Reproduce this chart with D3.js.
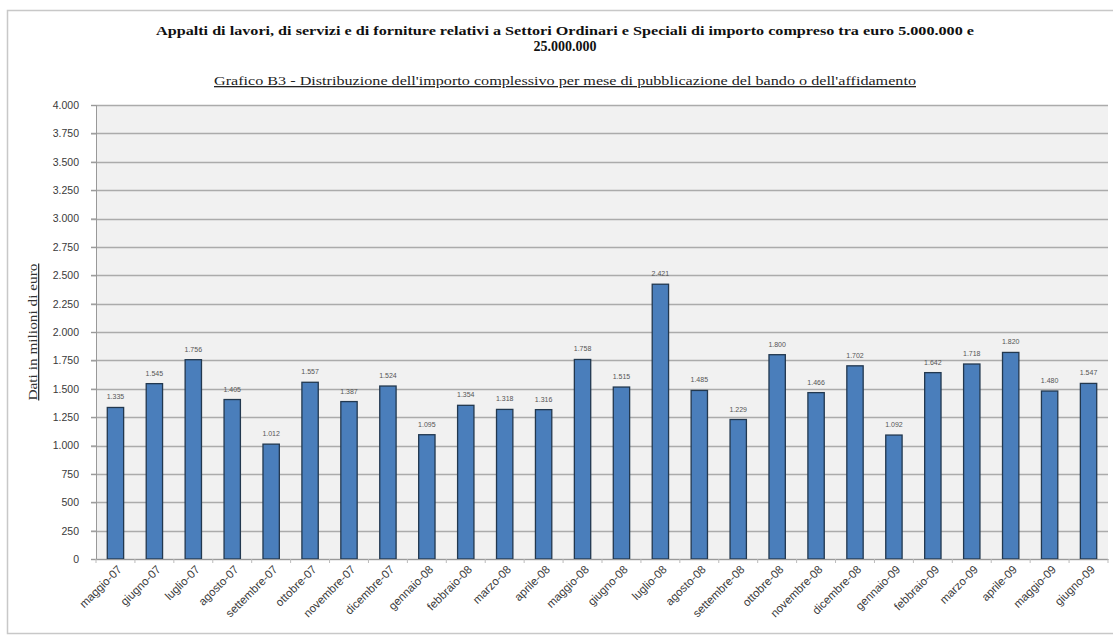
<!DOCTYPE html>
<html><head><meta charset="utf-8">
<script src="https://cdn.jsdelivr.net/npm/d3@7"></script>
<style>body{margin:0;background:#fff}svg{display:block}</style>
</head><body>
<script>
const categories = ["maggio-07","giugno-07","luglio-07","agosto-07","settembre-07","ottobre-07","novembre-07","dicembre-07","gennaio-08","febbraio-08","marzo-08","aprile-08","maggio-08","giugno-08","luglio-08","agosto-08","settembre-08","ottobre-08","novembre-08","dicembre-08","gennaio-09","febbraio-09","marzo-09","aprile-09","maggio-09","giugno-09"];
const values = [1335,1545,1756,1405,1012,1557,1387,1524,1095,1354,1318,1316,1758,1515,2421,1485,1229,1800,1466,1702,1092,1642,1718,1820,1480,1547];
const yTicks = [0,250,500,750,1000,1250,1500,1750,2000,2250,2500,2750,3000,3250,3500,3750,4000];
const title1 = "Appalti di lavori, di servizi e di forniture relativi a Settori Ordinari e Speciali di importo compreso tra euro 5.000.000 e";
const title2 = "25.000.000";
const subtitle = "Grafico B3 - Distribuzione dell'importo complessivo per mese di pubblicazione del bando o dell'affidamento";
const yTitle = "Dati in milioni di euro";

const W = 1113, H = 641;
const svg = d3.select("body").append("svg").attr("width", W).attr("height", H);
svg.append("rect").attr("x",7.5).attr("y",10.5).attr("width",1110).attr("height",623)
  .attr("fill","#fff").attr("stroke","#c8c8c8").attr("stroke-width",1.5);

const m = {left:96, right:1108, top:105, bottom:559};
const fmt = d3.formatLocale({decimal:",", thousands:".", grouping:[3]}).format(",d");
const x = d3.scaleBand().domain(categories).range([m.left, m.right]).paddingInner(0.58).paddingOuter(0.29);
const xb = d3.scaleBand().domain(categories).range([m.left, m.right]);
const y = d3.scaleLinear().domain([0,4000]).range([m.bottom, m.top]);

svg.append("rect").attr("x",m.left).attr("y",m.top).attr("width",m.right-m.left).attr("height",m.bottom-m.top).attr("fill","#f1f1f1");

// gridlines
svg.append("g").selectAll("line").data(yTicks).join("line")
  .attr("x1",m.left-5).attr("x2",m.right).attr("y1",d=>Math.round(y(d))+0.5).attr("y2",d=>Math.round(y(d))+0.5)
  .attr("stroke","#ababab").attr("stroke-width",1.4);

// y axis
const ya = svg.append("g").attr("transform",`translate(${m.left},0)`)
  .call(d3.axisLeft(y).tickValues(yTicks).tickFormat(fmt).tickSize(5).tickPadding(12));
ya.select(".domain").attr("stroke","#999");
ya.selectAll(".tick line").attr("stroke","#999");
ya.selectAll("text").attr("font-family","Liberation Sans, Arial, sans-serif").attr("font-size",10.5).attr("fill","#3a3a3a");

// bars
svg.append("g").selectAll("rect").data(values).join("rect")
  .attr("x",(d,i)=>x(categories[i])).attr("width",x.bandwidth())
  .attr("y",d=>y(d)).attr("height",d=>m.bottom-y(d))
  .attr("fill","#4a7ebb").attr("stroke","#22384f").attr("stroke-width",1.3);

// data labels
svg.append("g").selectAll("text").data(values).join("text")
  .attr("x",(d,i)=>x(categories[i])+x.bandwidth()/2).attr("y",d=>y(d)-8)
  .attr("text-anchor","middle").attr("font-family","Liberation Sans, Arial, sans-serif")
  .attr("font-size",7).attr("fill","#555").text(d=>fmt(d));

// x axis
const xa = svg.append("g").attr("transform",`translate(0,${m.bottom})`)
  .call(d3.axisBottom(xb).tickSize(0).tickFormat(d=>d));
xa.select(".domain").attr("stroke","#999");
svg.append("g").selectAll("line").data(categories.concat(["end"])).join("line")
  .attr("x1",(d,i)=>m.left+i*xb.bandwidth()).attr("x2",(d,i)=>m.left+i*xb.bandwidth())
  .attr("y1",m.bottom).attr("y2",m.bottom+4).attr("stroke","#bbb");
xa.selectAll("text").attr("font-family","Liberation Sans, Arial, sans-serif").attr("font-size",11.5).attr("fill","#3a3a3a")
  .attr("text-anchor","end").attr("dy",0).attr("transform","translate(5,9) rotate(-45)");

// titles
const tf = "Liberation Serif, Times New Roman, serif";
svg.append("text").attr("x",565).attr("y",35).attr("text-anchor","middle").attr("font-family",tf)
  .attr("font-weight","bold").attr("font-size",13.5).attr("fill","#111")
  .attr("textLength",818).attr("lengthAdjust","spacingAndGlyphs").text(title1);
svg.append("text").attr("x",565).attr("y",51).attr("text-anchor","middle").attr("font-family",tf)
  .attr("font-weight","bold").attr("font-size",14).attr("fill","#111").text(title2);
svg.append("text").attr("x",565).attr("y",85).attr("text-anchor","middle").attr("font-family",tf)
  .attr("font-size",13).attr("fill","#222").attr("text-decoration","underline")
  .attr("textLength",702).attr("lengthAdjust","spacingAndGlyphs").text(subtitle);
svg.append("text").attr("transform",`translate(37,${(m.top+m.bottom)/2}) rotate(-90)`).attr("text-anchor","middle")
  .attr("font-family",tf).attr("font-size",13).attr("fill","#333").attr("text-decoration","underline")
  .attr("textLength",137).attr("lengthAdjust","spacingAndGlyphs").text(yTitle);
</script>
</body></html>
